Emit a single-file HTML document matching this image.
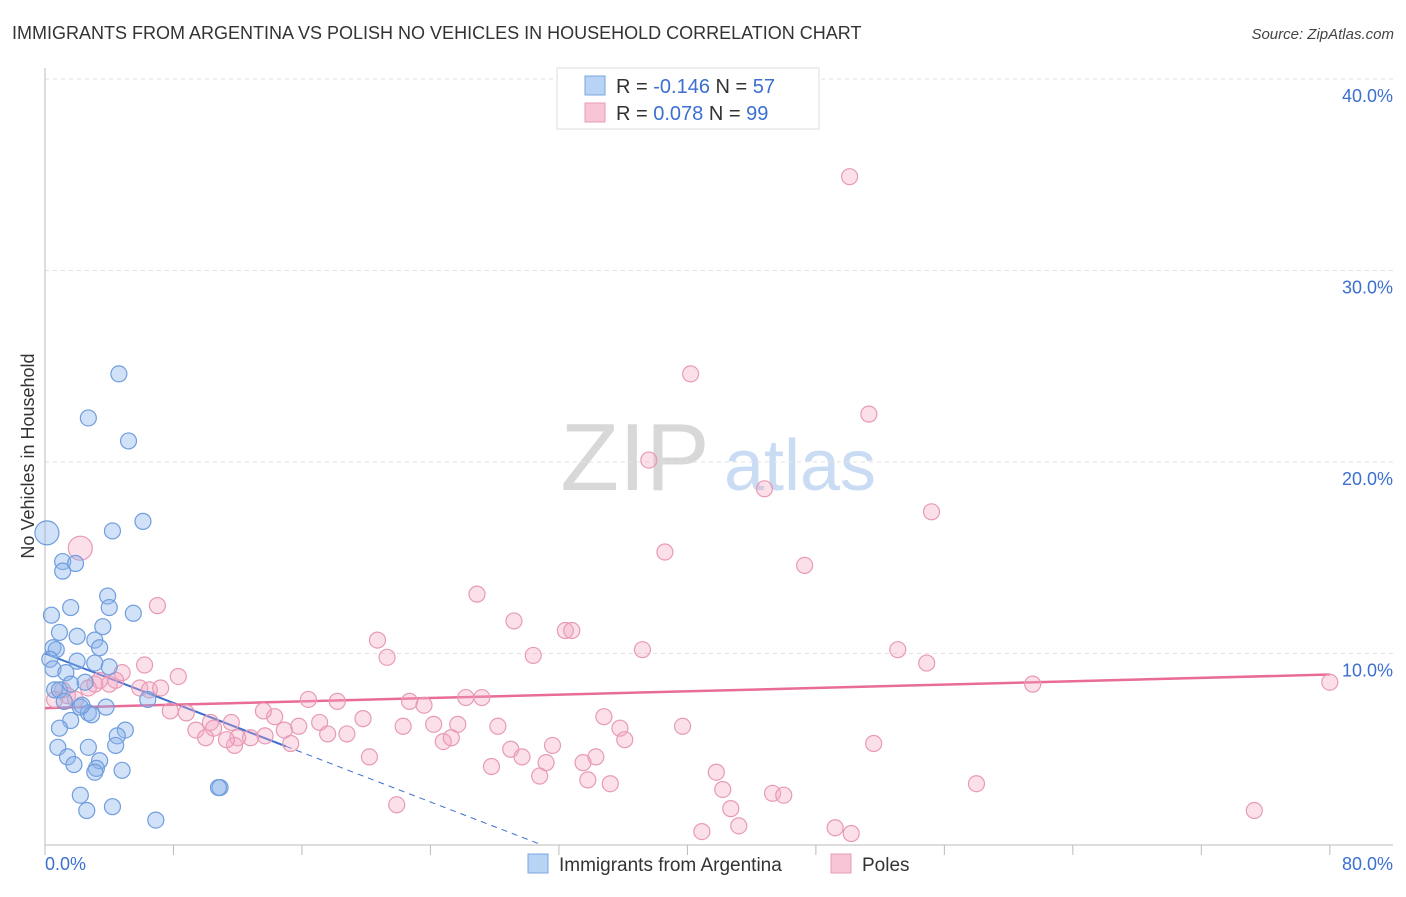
<!DOCTYPE html>
<html><head><meta charset="utf-8">
<style>
body{margin:0;background:#fff;font-family:"Liberation Sans",sans-serif;}
svg text{font-family:"Liberation Sans",sans-serif;}
</style></head>
<body>
<svg id="chart" width="1406" height="892" xmlns="http://www.w3.org/2000/svg">
<text x="12" y="39" font-size="18" fill="#333">IMMIGRANTS FROM ARGENTINA VS POLISH NO VEHICLES IN HOUSEHOLD CORRELATION CHART</text>
<text x="1394" y="39" font-size="15" fill="#444" font-style="italic" text-anchor="end">Source: ZipAtlas.com</text>
<text transform="translate(34,456) rotate(-90)" font-size="18" fill="#333" text-anchor="middle">No Vehicles in Household</text>
<g>
<text x="635" y="490" font-size="96" fill="#d8d8d8" font-family="Liberation Serif" text-anchor="middle">ZIP</text>
<text x="800" y="490" font-size="72" fill="#c9dcf3" text-anchor="middle">atlas</text>
</g>
<g id="grid"></g><g id="axes"></g><g id="trends"></g><g id="points"></g>
<g>
<rect x="557" y="68" width="262" height="61" fill="#fff" stroke="#ddd"/>
<rect x="585" y="76" width="20" height="19" fill="#b9d3f5" stroke="#7aa6e0"/>
<rect x="585" y="103" width="20" height="19" fill="#f8c5d6" stroke="#e89ab5"/>
<text x="616" y="93" font-size="20" fill="#333">R = <tspan fill="#3b6fd0">-0.146</tspan>   N = <tspan fill="#3b6fd0">57</tspan></text>
<text x="616" y="120" font-size="20" fill="#333">R =  <tspan fill="#3b6fd0">0.078</tspan>   N = <tspan fill="#3b6fd0">99</tspan></text>
</g>
<g>
<rect x="528" y="854" width="20" height="19" fill="#b9d3f5" stroke="#7aa6e0"/>
<text x="559" y="871" font-size="19" fill="#333">Immigrants from Argentina</text>
<rect x="831" y="854" width="20" height="19" fill="#f8c5d6" stroke="#e89ab5"/>
<text x="862" y="871" font-size="19" fill="#333">Poles</text>
</g>
</svg>
<script>
const yTicks=[10,20,30,40];
const yTickLabels=["10.0%","20.0%","30.0%","40.0%"];
const xTickLabels=["0.0%","80.0%"];
const blueX=[0.12,4.6,2.7,5.2,6.1,4.2,1.1,1.9,1.1,1.6,3.9,4.0,5.5,0.4,0.9,3.6,2.0,3.1,3.4,0.5,0.7,0.3,2.0,3.1,0.5,4.0,1.3,0.6,0.9,1.6,2.5,6.4,2.2,3.8,2.7,2.9,1.6,5.0,0.9,4.5,2.7,0.8,4.4,1.4,3.4,1.8,3.2,4.8,3.1,10.9,10.8,2.2,4.2,2.6,6.9,1.2,2.3];
const blueY=[16.3,24.6,22.3,21.1,16.9,16.4,14.8,14.7,14.3,12.4,13.0,12.4,12.1,12.0,11.1,11.4,10.9,10.7,10.3,10.3,10.2,9.7,9.6,9.5,9.2,9.3,9.0,8.1,8.1,8.4,8.5,7.6,7.2,7.2,6.9,6.8,6.5,6.0,6.1,5.7,5.1,5.1,5.2,4.6,4.4,4.2,4.0,3.9,3.8,3.0,3.0,2.6,2.0,1.8,1.3,7.5,7.3];
const pinkX=[50.1,40.2,51.3,37.6,44.8,55.2,2.2,38.6,47.3,26.9,7.0,29.2,32.4,32.8,20.7,37.2,53.1,30.4,21.3,54.9,6.2,4.8,8.3,61.5,80.0,1.1,1.4,3.1,4.0,5.9,6.5,7.2,3.4,4.4,2.7,1.9,0.6,16.4,18.2,22.7,23.6,26.2,27.2,7.8,8.8,14.3,19.8,34.8,10.3,11.6,17.1,15.8,10.5,25.7,24.2,28.2,35.8,39.7,9.4,10.0,12.0,13.7,12.8,14.9,18.8,17.6,22.3,24.8,25.3,11.8,11.3,15.3,36.1,31.6,29.0,51.6,20.2,29.7,34.3,31.2,33.5,27.8,41.8,30.8,33.8,35.2,58.0,42.2,45.3,46.0,21.9,42.7,75.3,43.2,49.2,50.2,40.9,13.6];
const pinkY=[34.9,24.6,22.5,20.1,18.6,17.4,15.5,15.3,14.6,13.1,12.5,11.7,11.2,11.2,10.7,10.2,10.2,9.9,9.8,9.5,9.4,9.0,8.8,8.4,8.5,8.1,7.8,8.4,8.4,8.2,8.1,8.2,8.6,8.6,8.2,7.6,7.6,7.6,7.5,7.5,7.3,7.7,7.7,7.0,6.9,6.7,6.6,6.7,6.4,6.4,6.4,6.2,6.1,6.3,6.3,6.2,6.1,6.2,6.0,5.6,5.6,5.7,5.6,6.0,5.8,5.8,6.2,5.4,5.6,5.2,5.5,5.3,5.5,5.2,5.0,5.3,4.6,4.6,4.6,4.3,4.3,4.1,3.8,3.6,3.4,3.2,3.2,2.9,2.7,2.6,2.1,1.9,1.8,1.0,0.9,0.6,0.7,7.0];
const blueTrend=[10.0,-0.323];
const pinkTrend=[7.15,0.0219];
const NS="http://www.w3.org/2000/svg";
const sx=v=>45+v*16.06, sy=v=>845-v*19.15;
function mk(tag,attrs,parent){const e=document.createElementNS(NS,tag);for(const k in attrs)e.setAttribute(k,attrs[k]);parent.appendChild(e);return e;}
const grid=document.getElementById('grid'),axes=document.getElementById('axes'),tr=document.getElementById('trends'),pts=document.getElementById('points');
yTicks.forEach((t,i)=>{
const l=mk('line',{x1:45,x2:1393,y1:sy(t),y2:sy(t),stroke:'#e2e2e2','stroke-dasharray':'4,4'},grid);


const tx=mk('text',{x:1393,y:sy(t)+23,'font-size':18,fill:'#3b6fd0','text-anchor':'end'},axes);
tx.textContent=yTickLabels[i];


});
mk('line',{x1:45,x2:45,y1:68,y2:845,stroke:'#bbb'},axes);
mk('line',{x1:45,x2:1393,y1:845,y2:845,stroke:'#bbb'},axes);
for(let i=0;i<=10;i++){mk('line',{x1:sx(i*8),x2:sx(i*8),y1:845,y2:855,stroke:'#bbb'},axes);}
const x0=mk('text',{x:45,y:870,'font-size':18,fill:'#3b6fd0'},axes);x0.textContent=xTickLabels[0];


const x1=mk('text',{x:1393,y:870,'font-size':18,fill:'#3b6fd0','text-anchor':'end'},axes);x1.textContent=xTickLabels[1];


function addPts(X,Y,fill,stroke,name){X.forEach((x,i)=>{
const big=(name==='blue-point'&&i===0)||(name==='pink-point'&&i===6);
const c=mk('circle',{cx:sx(X[i]),cy:sy(Y[i]),r:big?12:8,fill:fill,stroke:stroke,'stroke-width':1.2},pts);


});}
addPts(pinkX,pinkY,'rgba(244,165,195,0.35)','#e89ab5','pink-point');
addPts(blueX,blueY,'rgba(140,180,235,0.4)','#6f9ddd','blue-point');
const bEnd=15, bZero=-blueTrend[0]/blueTrend[1];
const b1=mk('line',{x1:sx(0),y1:sy(blueTrend[0]),x2:sx(bEnd),y2:sy(blueTrend[0]+blueTrend[1]*bEnd),stroke:'#3b6fd0','stroke-width':2},tr);


const b2=mk('line',{x1:sx(bEnd),y1:sy(blueTrend[0]+blueTrend[1]*bEnd),x2:sx(bZero),y2:sy(0),stroke:'#3b6fd0','stroke-width':1,'stroke-dasharray':'6,5'},tr);


const p1=mk('line',{x1:sx(0),y1:sy(pinkTrend[0]),x2:sx(80),y2:sy(pinkTrend[0]+pinkTrend[1]*80),stroke:'#e86b98','stroke-width':2.5},tr);


</script>
</body></html>
